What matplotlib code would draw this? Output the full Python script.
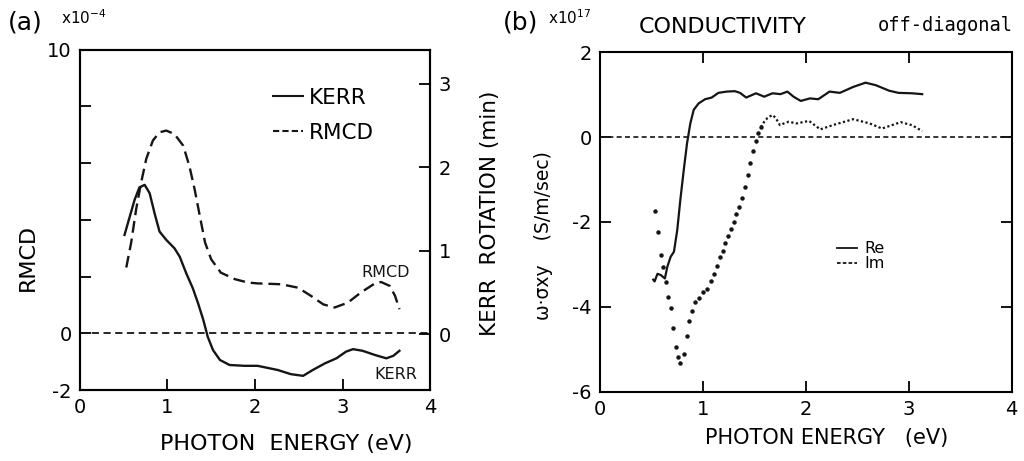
import numpy as np
import matplotlib.pyplot as plt
from matplotlib.lines import Line2D

# ---- panel (a): RMCD (left axis, x1e-4) and Kerr rotation (right axis, min)
rmcd_e = [0.53, 0.586, 0.643, 0.70, 0.758, 0.834, 0.91, 0.987, 1.08, 1.18, 1.25,
          1.31, 1.37, 1.43, 1.50, 1.61, 1.77, 1.92, 2.03, 2.30, 2.49, 2.64, 2.78,
          2.91, 3.06, 3.21, 3.37, 3.44, 3.54, 3.60, 3.65]
rmcd_v = [2.32, 3.2, 4.38, 5.32, 6.15, 6.80, 7.09, 7.15, 7.03, 6.62, 5.91,
          5.09, 4.14, 3.2, 2.61, 2.14, 1.91, 1.79, 1.76, 1.73, 1.61, 1.32, 1.02,
          0.91, 1.08, 1.44, 1.76, 1.81, 1.67, 1.32, 0.85]

kerr_e = [0.51, 0.57, 0.625, 0.68, 0.74, 0.797, 0.853, 0.91, 0.987, 1.08, 1.14,
          1.215, 1.29, 1.35, 1.41, 1.46, 1.52, 1.60, 1.71, 1.88, 2.03, 2.26, 2.41,
          2.55, 2.66, 2.80, 2.93, 3.04, 3.12, 3.23, 3.37, 3.50, 3.58, 3.65]
kerr_v = [1.19, 1.41, 1.61, 1.76, 1.79, 1.69, 1.45, 1.23, 1.13, 1.03, 0.93,
          0.73, 0.55, 0.37, 0.17, -0.03, -0.19, -0.31, -0.37, -0.38, -0.38, -0.43, -0.48,
          -0.50, -0.43, -0.35, -0.29, -0.21, -0.18, -0.20, -0.25, -0.29, -0.26, -0.20]

# ---- panel (b): off-diagonal conductivity (x1e17)
re_e = [0.517, 0.53, 0.558, 0.59, 0.63, 0.654, 0.686, 0.718, 0.75, 0.78, 0.813,
        0.845, 0.877, 0.91, 0.957, 1.02, 1.085, 1.15, 1.23, 1.31, 1.36, 1.42,
        1.515, 1.595, 1.675, 1.754, 1.82, 1.88, 1.95, 2.04, 2.12, 2.23, 2.33,
        2.46, 2.58, 2.68, 2.81, 2.90, 3.03, 3.13]
re_v = [-3.36, -3.40, -3.22, -3.25, -3.33, -3.05, -2.82, -2.70, -2.19, -1.48, -0.78,
        -0.15, 0.32, 0.64, 0.79, 0.89, 0.93, 1.04, 1.07, 1.08, 1.04, 0.93,
        1.03, 0.95, 1.03, 1.01, 1.07, 0.95, 0.85, 0.91, 0.89, 1.07, 1.04,
        1.18, 1.28, 1.22, 1.09, 1.04, 1.03, 1.01]

im_e = [0.536, 0.565, 0.59, 0.612, 0.638, 0.663, 0.689, 0.711, 0.737, 0.759, 0.78,
        0.813, 0.845, 0.868, 0.893, 0.925, 0.957, 0.998, 1.037, 1.078, 1.11, 1.136,
        1.165, 1.19, 1.218, 1.244, 1.273, 1.298, 1.324, 1.352, 1.378, 1.407, 1.435,
        1.461, 1.486, 1.512, 1.538, 1.563]
im_v = [-1.73, -2.24, -2.78, -3.05, -3.41, -3.76, -4.02, -4.49, -4.95, -5.19, -5.33,
        -5.11, -4.68, -4.32, -4.09, -3.89, -3.80, -3.66, -3.58, -3.40, -3.22, -3.03,
        -2.82, -2.68, -2.49, -2.32, -2.17, -1.99, -1.82, -1.64, -1.43, -1.18, -0.89,
        -0.60, -0.32, -0.09, 0.09, 0.23]
im_tail_e = [1.563, 1.595, 1.627, 1.675, 1.706, 1.748, 1.786, 1.834, 1.91, 2.03,
             2.14, 2.26, 2.46, 2.62, 2.74, 2.92, 3.03, 3.13]
im_tail_v = [0.23, 0.36, 0.45, 0.52, 0.45, 0.28, 0.32, 0.36, 0.32, 0.38,
             0.18, 0.28, 0.42, 0.32, 0.20, 0.35, 0.28, 0.14]

ink = '#151515'
plt.rcParams['font.family'] = ['DejaVu Sans']
plt.rcParams['axes.unicode_minus'] = False
plt.rcParams['axes.linewidth'] = 1.5
plt.rcParams['xtick.direction'] = 'in'
plt.rcParams['ytick.direction'] = 'in'

fig = plt.figure(figsize=(10.24, 4.61), dpi=100)

# ================= (a)
ax = fig.add_axes([0.078, 0.154, 0.342, 0.738])
ax2 = ax.twinx()
ax.set_xlim(0, 4)
ax.set_ylim(-2, 10)
ax2.set_ylim(-0.67, 3.41)

ax.axhline(0, color=ink, lw=1.3, ls=(0, (4, 2.5)))
ax.plot(rmcd_e, rmcd_v, color=ink, lw=1.7, ls=(0, (5, 2.5)))
ax2.plot(kerr_e, kerr_v, color=ink, lw=1.7)

ax.set_xticks([0, 1, 2, 3, 4])
ax.set_yticks([-2, 0, 2, 4, 6, 8, 10])
ax.set_yticklabels(['-2', '0', '', '', '', '', '10'])
ax2.set_yticks([0, 1, 2, 3])
ax.tick_params(labelsize=14, length=8, width=1.3, pad=6)
ax2.tick_params(labelsize=14, length=8, width=1.3, pad=6)
ax.tick_params(axis='x', top=False)

ax.set_xlabel('PHOTON  ENERGY (eV)', fontsize=16)
ax.xaxis.set_label_coords(0.59, -0.128)
ax.set_ylabel('RMCD', fontsize=16)
ax.yaxis.set_label_coords(-0.12, 0.39)
ax2.set_ylabel('KERR  ROTATION (min)', fontsize=15.5)
ax2.yaxis.set_label_coords(1.143, 0.52)

handles = [Line2D([], [], color=ink, lw=1.5),
           Line2D([], [], color=ink, lw=1.5, ls=(0, (3, 1.5)))]
ax.legend(handles, ['KERR', 'RMCD'], loc='upper left', bbox_to_anchor=(0.497, 0.945),
          frameon=False, fontsize=15.5, handlelength=1.4, handletextpad=0.25,
          labelspacing=0.7)
ax.text(3.49, 2.16, 'RMCD', fontsize=11.5, ha='center', va='center', color=ink)
ax.text(3.61, -1.45, 'KERR', fontsize=11.5, ha='center', va='center', color=ink)

fig.text(0.008, 0.952, '(a)', fontsize=18, va='center')
fig.text(0.060, 0.962, 'x10$^{-4}$', fontsize=11, va='center')

# ================= (b)
bx = fig.add_axes([0.586, 0.150, 0.402, 0.737])
bx.set_xlim(0, 4)
bx.set_ylim(-6, 2)
bx.axhline(0, color=ink, lw=1.2, ls=(0, (3, 2)))
bx.plot(re_e, re_v, color=ink, lw=1.6)
bx.plot(im_e, im_v, ls='none', marker='o', ms=2.2, color=ink)
bx.plot(im_tail_e, im_tail_v, color=ink, lw=1.6, ls=(0, (1, 1.1)))

bx.set_xticks([0, 1, 2, 3, 4])
bx.set_yticks([-6, -4, -2, 0, 2])
bx.tick_params(labelsize=14, length=8, width=1.3, pad=6,
               top=True, right=True)
bx.set_xlabel('PHOTON ENERGY   (eV)', fontsize=15)
bx.xaxis.set_label_coords(0.55, -0.105)
bx.set_ylabel('ω·σxy    (S/m/sec)', fontsize=13.5)
bx.yaxis.set_label_coords(-0.114, 0.46)

handles = [Line2D([], [], color=ink, lw=1.3),
           Line2D([], [], color=ink, lw=1.3, ls=(0, (2, 1.2)))]
bx.legend(handles, ['Re', 'Im'], loc='upper left', bbox_to_anchor=(0.54, 0.485),
          frameon=False, fontsize=11.5, handlelength=1.3, handletextpad=0.4,
          labelspacing=0.0)

fig.text(0.491, 0.952, '(b)', fontsize=18, va='center')
fig.text(0.535, 0.962, 'x10$^{17}$', fontsize=11, va='center')
fig.text(0.706, 0.942, 'CONDUCTIVITY', fontsize=16, ha='center', va='center')
fig.text(0.857, 0.945, 'off-diagonal', fontsize=13.5, va='center',
         family='DejaVu Sans Mono')

fig.savefig('out.png', dpi=100)
